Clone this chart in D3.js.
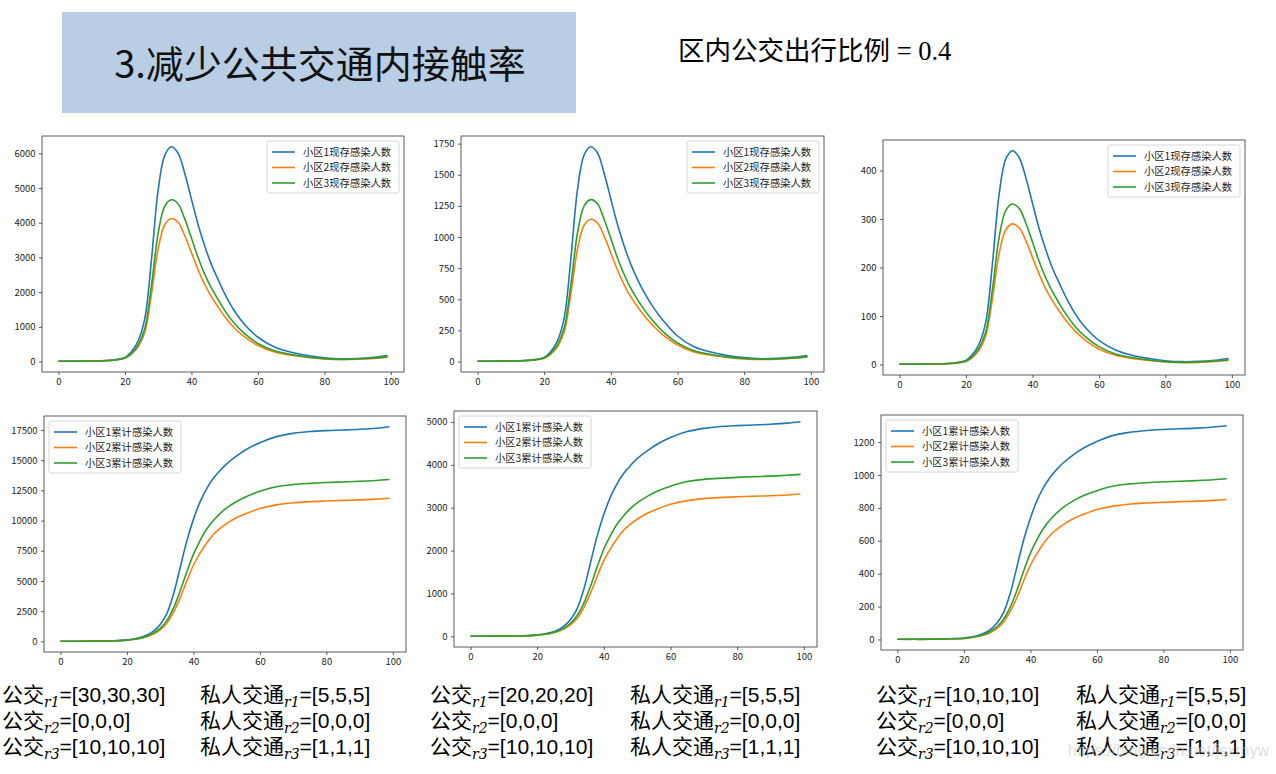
<!DOCTYPE html>
<html><head><meta charset="utf-8">
<script src="https://cdn.jsdelivr.net/npm/d3@7"></script>
<style>body{margin:0;background:#fff;overflow:hidden}</style>
</head><body><svg id="c" width="1276" height="774"></svg>
<script>
// ---------- data ----------
const days = [0,5,10,14,17,20,22,24,26,28,30,32,34,36,38,40,42,44,46,48,50,53,56,60,65,70,75,80,85,90,95,99];
const xTicks = [0,20,40,60,80,100];

const curLabels = ["小区1现存感染人数","小区2现存感染人数","小区3现存感染人数"];
const cumLabels = ["小区1累计感染人数","小区2累计感染人数","小区3累计感染人数"];

// column 1 (公交 r1 = 30) current infected
const cur1_r1 = [10,12,18,30,55,120,290,600,1250,2950,4950,5950,6190,6000,5420,4680,3950,3330,2800,2370,1960,1450,1070,700,420,270,175,110,80,90,125,175];
const cur1_r2 = [8,9,13,22,42,92,215,430,850,1950,3250,3950,4120,4010,3630,3140,2650,2220,1870,1580,1300,960,710,460,275,180,118,76,58,66,92,128];
const cur1_r3 = [9,10,15,25,47,103,240,490,960,2200,3700,4480,4660,4540,4110,3560,3000,2520,2120,1790,1475,1090,805,520,310,205,133,85,64,73,102,142];
// column 2 (公交 r1 = 20)
const cur2_r1 = [3,3,5,8,15,33,81,167,349,823,1380,1660,1725,1675,1510,1305,1100,928,780,660,555,425,320,205,118,76,49,31,22,25,35,49];
const cur2_r2 = [2,2,4,6,12,26,60,119,236,541,902,1096,1143,1113,1007,871,735,616,519,440,368,280,205,132,76,50,33,21,16,18,26,36];
const cur2_r3 = [2,3,4,7,13,29,67,136,268,614,1032,1250,1300,1267,1141,988,832,699,588,497,417,316,232,149,86,57,37,24,18,20,28,39];
// column 3 (公交 r1 = 10)
const cur3_r1 = [1,1,1.3,2.1,3.9,8.5,21,43,89,210,352,424,441,427,386,333,281,237,199,169,140,103,76,50,30,19,12.5,8,6,6.5,9,12.5];
const cur3_r2 = [0.5,0.6,0.9,1.5,3,6.5,15,30,60,137,229,278,290,282,256,221,187,156,132,111,92,68,50,32,19,12.7,8.3,5.4,4.1,4.6,6.5,9];
const cur3_r3 = [0.6,0.7,1.1,1.8,3.3,7.3,17,35,68,156,263,318,331,322,292,253,213,179,151,127,105,77,57,37,22,14.6,9.4,6,4.5,5.2,7.2,10];

// cumulative infected
const cum1_r1 = [10,15,25,40,65,120,200,320,520,850,1400,2300,3900,6100,8300,10100,11550,12650,13500,14150,14700,15350,15900,16450,16950,17220,17370,17450,17500,17560,17650,17770];
const cum1_r2 = [8,12,18,30,50,90,150,240,380,600,950,1500,2400,3600,5000,6300,7300,8150,8850,9350,9750,10250,10600,11000,11300,11470,11560,11620,11670,11715,11775,11850];
const cum1_r3 = [9,13,20,33,55,100,170,270,430,680,1080,1720,2750,4150,5750,7200,8350,9300,10000,10580,11050,11580,12000,12420,12800,12980,13080,13150,13200,13250,13320,13400];
const cum2_r1 = [3,4,7,11,18,34,56,90,146,240,394,648,1099,1718,2338,2845,3254,3563,3803,3986,4145,4325,4480,4635,4775,4850,4893,4915,4930,4947,4972,5005];
const cum2_r2 = [2,3,5,8,14,25,42,67,106,168,266,420,672,1008,1400,1765,2045,2280,2480,2620,2730,2870,2970,3080,3165,3212,3237,3254,3268,3280,3297,3318];
const cum2_r3 = [3,4,6,9,15,28,48,76,121,192,305,485,775,1170,1620,2030,2355,2620,2820,2985,3115,3265,3385,3500,3610,3660,3688,3708,3723,3737,3757,3778];
const cum3_r1 = [1,1,2,3,5,9,15,23,38,62,102,168,285,447,608,739,846,926,988,1036,1076,1124,1164,1204,1241,1260,1271,1277,1281,1285,1292,1300];
const cum3_r2 = [1,1,1,2,4,6,11,17,27,43,68,108,172,258,359,452,524,585,635,671,700,736,761,790,811,824,830,834,838,841,846,851];
const cum3_r3 = [1,1,1,2,4,7,12,20,31,50,79,125,200,302,419,525,609,678,729,771,805,844,875,905,933,946,953,959,962,966,971,977];

const yTicks1 = [0,1000,2000,3000,4000,5000,6000];
const yTicks2 = [0,250,500,750,1000,1250,1500,1750];
const yTicks3 = [0,100,200,300,400];
const yTicks4 = [0,2500,5000,7500,10000,12500,15000,17500];
const yTicks5 = [0,1000,2000,3000,4000,5000];
const yTicks6 = [0,200,400,600,800,1000,1200];

const titleText = "3.减少公共交通内接触率";
const subtitleCJK = "区内公交出行比例";
const subtitleValue = " = 0.4";

const busName = "公交";
const privName = "私人交通";
const subs = ["r1","r2","r3"];
const busValues = [["=[30,30,30]","=[0,0,0]","=[10,10,10]"],["=[20,20,20]","=[0,0,0]","=[10,10,10]"],["=[10,10,10]","=[0,0,0]","=[10,10,10]"]];
const privValues = [["=[5,5,5]","=[0,0,0]","=[1,1,1]"],["=[5,5,5]","=[0,0,0]","=[1,1,1]"],["=[5,5,5]","=[0,0,0]","=[1,1,1]"]];
const watermark = "https://blog.csdn.net/jsxrnyw";

const colors = ["#1f77b4","#ff7f0e","#2ca02c"];

// ---------- drawing ----------
const svg = d3.select("#c");
const CJK = "'Noto Sans CJK SC','Noto Sans',sans-serif";

// title block
svg.append("rect").attr("x",62).attr("y",12).attr("width",514).attr("height",101).attr("fill","#b9cde5");
svg.append("text").attr("x",320).attr("y",78).attr("text-anchor","middle")
  .attr("font-family",CJK).attr("font-size",38).attr("fill","#111").text(titleText);
const st = svg.append("text").attr("x",678).attr("y",60).attr("font-size",26.5).attr("fill","#000");
st.append("tspan").attr("font-family",CJK).text(subtitleCJK);
st.append("tspan").attr("font-family","'Liberation Serif',serif").text(subtitleValue);

const panels = [
  {f:[42,136,404,372], s:[cur1_r1,cur1_r2,cur1_r3], t:yTicks1, l:curLabels, pos:"right"},
  {f:[461,136,824,372], s:[cur2_r1,cur2_r2,cur2_r3], t:yTicks2, l:curLabels, pos:"right"},
  {f:[883,140,1245,375], s:[cur3_r1,cur3_r2,cur3_r3], t:yTicks3, l:curLabels, pos:"right"},
  {f:[44,416,406,652], s:[cum1_r1,cum1_r2,cum1_r3], t:yTicks4, l:cumLabels, pos:"left"},
  {f:[454,411,817,647], s:[cum2_r1,cum2_r2,cum2_r3], t:yTicks5, l:cumLabels, pos:"left"},
  {f:[881,415,1243,650], s:[cum3_r1,cum3_r2,cum3_r3], t:yTicks6, l:cumLabels, pos:"left"}
];

panels.forEach(p => {
  const [x0,y0,x1,y1] = p.f;
  const xmin = d3.min(days), xmax = d3.max(days), xr = xmax - xmin;
  const x = d3.scaleLinear().domain([xmin - 0.05*xr, xmax + 0.05*xr]).range([x0,x1]);
  const all = p.s.flat();
  const ymin = d3.min(all), ymax = d3.max(all), yr = ymax - ymin;
  const y = d3.scaleLinear().domain([ymin - 0.05*yr, ymax + 0.05*yr]).range([y1,y0]);
  const g = svg.append("g");

  const line = d3.line().x((d,i)=>x(days[i])).y(d=>y(d)).curve(d3.curveCatmullRom.alpha(0.5));
  p.s.forEach((ser,k) => {
    g.append("path").datum(ser).attr("d",line).attr("fill","none")
      .attr("stroke",colors[k]).attr("stroke-width",1.6).attr("stroke-linejoin","round");
  });

  const xAxis = d3.axisBottom(x).tickValues(xTicks).tickSize(3).tickPadding(3.5).tickFormat(d3.format("d"));
  const yAxis = d3.axisLeft(y).tickValues(p.t).tickSize(3).tickPadding(3.5).tickFormat(d3.format("d"));
  const gx = g.append("g").attr("transform",`translate(0,${y1})`).call(xAxis);
  const gy = g.append("g").attr("transform",`translate(${x0},0)`).call(yAxis);
  [gx,gy].forEach(a => {
    a.select(".domain").remove();
    a.selectAll("line").attr("stroke","#333").attr("stroke-width",0.8);
    a.selectAll("text").attr("font-family",CJK).attr("font-size",9.5).attr("fill","#222");
  });
  g.append("rect").attr("x",x0).attr("y",y0).attr("width",x1-x0).attr("height",y1-y0)
    .attr("fill","none").attr("stroke","#333").attr("stroke-width",0.8);

  // legend
  const lw = 132, lh = 52;
  const lx = p.pos === "right" ? x1 - 5 - lw : x0 + 5;
  const ly = y0 + 5;
  const lg = g.append("g");
  lg.append("rect").attr("x",lx).attr("y",ly).attr("width",lw).attr("height",lh).attr("rx",2)
    .attr("fill","#fff").attr("fill-opacity",0.8).attr("stroke","#cccccc").attr("stroke-width",0.8);
  p.l.forEach((lab,k) => {
    const yy = ly + 11 + k*15.5;
    lg.append("line").attr("x1",lx+5).attr("x2",lx+28).attr("y1",yy).attr("y2",yy)
      .attr("stroke",colors[k]).attr("stroke-width",1.6);
    lg.append("text").attr("x",lx+36).attr("y",yy).attr("dy","0.36em")
      .attr("font-family",CJK).attr("font-size",10.3).attr("fill","#222").text(lab);
  });
});

// bottom parameter text
const groupX = [[2,200],[430,630],[876,1076]];
const rowY = [702,728,754];
function paramText(xp, yp, name, sub, val){
  const t = svg.append("text").attr("x",xp).attr("y",yp).attr("fill","#000");
  t.append("tspan").attr("font-family",CJK).attr("font-size",21).text(name);
  t.append("tspan").attr("font-family","'DejaVu Serif','Liberation Serif',serif").attr("font-style","italic")
    .attr("font-size",14).attr("dy",5).text(sub);
  t.append("tspan").attr("font-family","'Liberation Sans',Arial,sans-serif").attr("font-size",21).attr("dy",-5).text(val);
}
groupX.forEach((gxp,gi) => {
  rowY.forEach((ry,ri) => {
    paramText(gxp[0], ry, busName, subs[ri], busValues[gi][ri]);
    paramText(gxp[1], ry, privName, subs[ri], privValues[gi][ri]);
  });
});
svg.append("text").attr("x",1068).attr("y",756).attr("font-family","'Liberation Sans',sans-serif")
  .attr("font-size",16).attr("fill","#c8c8c8").attr("fill-opacity",0.6).text(watermark);
</script></body></html>
